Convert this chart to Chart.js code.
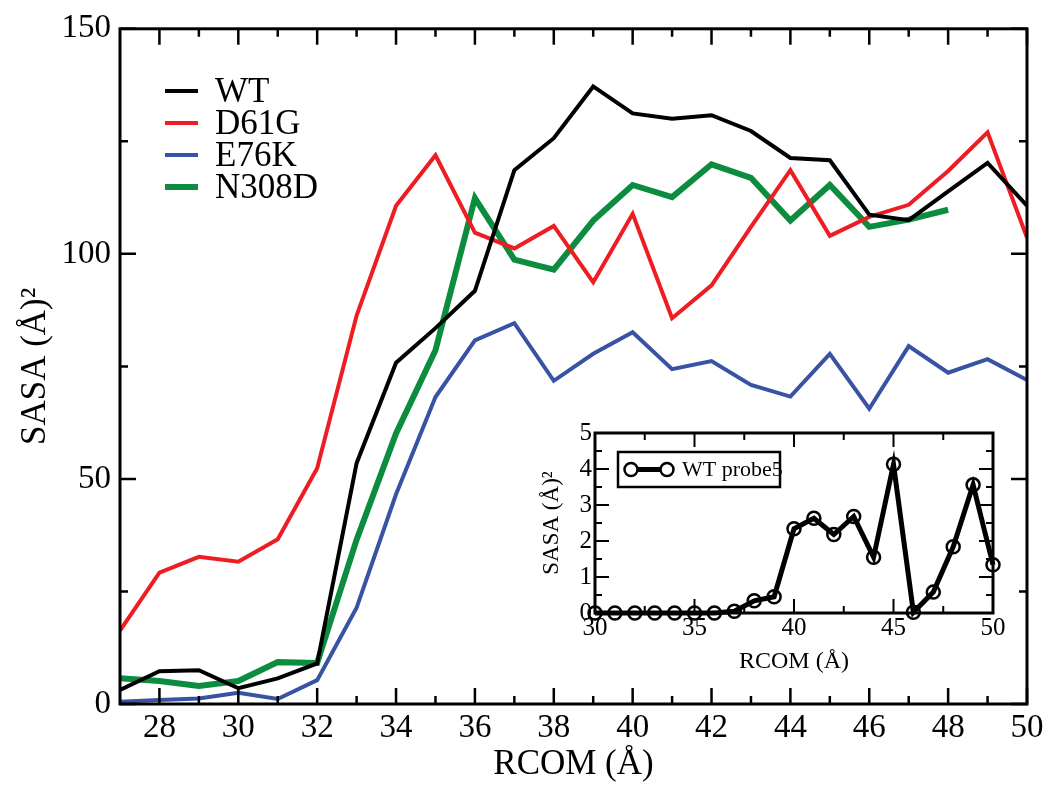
<!DOCTYPE html>
<html><head><meta charset="utf-8">
<script src="https://cdn.jsdelivr.net/npm/chart.js@4.4.1/dist/chart.umd.min.js"></script>
<style>
html,body{margin:0;padding:0;background:#fff;}
#wrap{position:relative;width:1050px;height:792px;overflow:hidden;}
#main{position:absolute;left:0;top:0;}
#inset{position:absolute;left:535px;top:415px;}
</style></head><body>
<div id="wrap"><canvas id="main" width="1050" height="792"></canvas><canvas id="inset" width="475" height="265"></canvas></div>
<script>
// ---- main chart data ----
const rcom = [27,28,29,30,31,32,33,34,35,36,37,38,39,40,41,42,43,44,45,46,47,48,49,50];
const wt    = [3.1,7.3,7.5,3.5,5.7,9.0,53.5,75.8,83.5,91.8,118.6,125.7,137.2,131.2,130.0,130.8,127.3,121.3,120.8,108.7,107.5,113.9,120.2,110.7];
const d61g  = [16.3,29.2,32.7,31.6,36.6,52.4,86.3,110.7,121.9,104.7,101.2,106.2,93.7,108.9,85.7,93.0,106.0,118.6,104.0,108.2,110.9,118.4,127.0,103.6];
const e76k  = [0.5,0.9,1.2,2.5,1.1,5.3,21.4,46.6,68.2,80.8,84.6,71.8,77.8,82.6,74.4,76.2,70.9,68.3,77.8,65.6,79.5,73.6,76.6,72.0];
const n308d = [5.7,5.1,4.0,5.1,9.3,9.1,36.5,60.1,78.6,112.4,98.7,96.5,107.4,115.3,112.6,119.9,116.9,107.4,115.3,106.0,107.6,109.8,null,null];
const seriesNames = ['WT','D61G','E76K','N308D'];
const xTickLabels = [28,30,32,34,36,38,40,42,44,46,48,50];
const xMinorTicks = [29,31,33,35,37,39,41,43,45,47,49];
const yTickLabels = [0,50,100,150];
const yMinorTicks = [25,75,125];

// ---- inset data ----
const probeX = [30,31,32,33,34,35,36,37,38,39,40,41,42,43,44,45,46,47,48,49,50];
const probe5 = [0,0,0,0,0,0,0,0.05,0.34,0.45,2.34,2.63,2.18,2.68,1.55,4.13,0.02,0.58,1.84,3.56,1.34];
const insetName = 'WT probe5';
const insetXTickLabels = [30,35,40,45,50];
const insetXMinorTicks = [32.5,37.5,42.5,47.5];
const insetYTickLabels = [0,1,2,3,4,5];
const insetYMinorTicks = [0.5,1.5,2.5,3.5,4.5];

const SERIF = '"Liberation Serif", "DejaVu Serif", serif';
const toXY = (xs, ys) => xs.map((x, i) => ({x: x, y: ys[i]}));

const frameTicks = {
  id: 'frameTicks',
  beforeDraw(chart, args, o) {
    const {ctx, chartArea: a} = chart;
    if (o.fill) { ctx.save(); ctx.fillStyle = '#fff'; ctx.fillRect(a.left, a.top, a.right - a.left, a.bottom - a.top); ctx.restore(); }
  },
  afterDatasetsDraw(chart, args, o) {
    const {ctx, chartArea: a, scales: {x, y}} = chart;
    ctx.save();
    ctx.strokeStyle = '#000'; ctx.lineCap = 'butt'; ctx.lineWidth = o.tickWidth;
    ctx.beginPath();
    const vx = (vals, len) => vals.forEach(v => { const p = x.getPixelForValue(v);
      ctx.moveTo(p, a.bottom); ctx.lineTo(p, a.bottom - len); ctx.moveTo(p, a.top); ctx.lineTo(p, a.top + len); });
    const vy = (vals, len) => vals.forEach(v => { const p = y.getPixelForValue(v);
      ctx.moveTo(a.left, p); ctx.lineTo(a.left + len, p); ctx.moveTo(a.right, p); ctx.lineTo(a.right - len, p); });
    vx(o.xMajor, o.major); vx(o.xMinor, o.minor); vy(o.yMajor, o.major); vy(o.yMinor, o.minor);
    ctx.stroke();
    ctx.lineWidth = o.frameWidth; ctx.lineJoin = 'miter';
    ctx.strokeRect(a.left, a.top, a.right - a.left, a.bottom - a.top);
    ctx.restore();
  }
};

const innerLegend = {
  id: 'innerLegend',
  afterDraw(chart, args, o) {
    const ctx = chart.ctx;
    ctx.save();
    ctx.font = o.fontSize + 'px ' + SERIF; ctx.textBaseline = 'middle'; ctx.fillStyle = '#000';
    chart.data.datasets.forEach((ds, i) => {
      const yy = o.y + i * o.gap;
      ctx.strokeStyle = ds.borderColor; ctx.lineWidth = ds.borderWidth; ctx.lineCap = 'butt';
      ctx.beginPath(); ctx.moveTo(o.x1, yy); ctx.lineTo(o.x2, yy); ctx.stroke();
      ctx.fillText(ds.label, o.tx, yy + 2);
    });
    ctx.restore();
  }
};

const boxLegend = {
  id: 'boxLegend',
  afterDraw(chart, args, o) {
    const ctx = chart.ctx; const ds = chart.data.datasets[0];
    ctx.save();
    ctx.strokeStyle = '#000'; ctx.lineWidth = 2.5;
    ctx.strokeRect(o.left, o.top, o.width, o.height);
    const yy = o.top + o.height / 2;
    ctx.lineWidth = ds.borderWidth; ctx.beginPath(); ctx.moveTo(o.lx1, yy); ctx.lineTo(o.lx2, yy); ctx.stroke();
    ctx.lineWidth = ds.pointBorderWidth;
    [o.lx1, o.lx2].forEach(px => { ctx.beginPath(); ctx.arc(px, yy, ds.pointRadius, 0, Math.PI * 2); ctx.fillStyle = '#fff'; ctx.fill(); ctx.stroke(); });
    ctx.fillStyle = '#000'; ctx.font = o.fontSize + 'px ' + SERIF; ctx.textBaseline = 'middle';
    ctx.fillText(ds.label, o.tx, yy + 1);
    ctx.restore();
  }
};

function lineDs(label, data, color, width) {
  return {label, data: toXY(rcom, data), borderColor: color, backgroundColor: color, borderWidth: width,
    pointRadius: 0, tension: 0, borderJoinStyle: 'miter', spanGaps: false, fill: false};
}

new Chart(document.getElementById('main'), {
  type: 'line',
  data: { datasets: [
    lineDs(seriesNames[0], wt, '#000000', 4),
    lineDs(seriesNames[1], d61g, '#ee1d23', 4),
    lineDs(seriesNames[2], e76k, '#3953a4', 4),
    lineDs(seriesNames[3], n308d, '#0b8c3e', 6)
  ]},
  options: {
    responsive: false, animation: false, devicePixelRatio: 1,
    layout: { padding: {left: 0, right: 23, top: 25, bottom: 0} },
    plugins: {
      legend: {display: false}, tooltip: {enabled: false},
      frameTicks: {xMajor: xTickLabels, xMinor: xMinorTicks, yMajor: yTickLabels, yMinor: yMinorTicks, major: 16, minor: 8, tickWidth: 2.5, frameWidth: 3},
      innerLegend: {x1: 165, x2: 198, tx: 215, y: 91, gap: 32, fontSize: 35}
    },
    scales: {
      x: { type: 'linear', min: 27, max: 50,
        afterFit: s => { s.height = 88; },
        afterBuildTicks: s => { s.ticks = xTickLabels.map(v => ({value: v})); },
        grid: {display: false, drawTicks: false}, border: {display: false},
        ticks: {color: '#000', font: {family: SERIF, size: 33}, padding: 5, maxRotation: 0, autoSkip: false},
        title: {display: true, text: 'RCOM (Å)', color: '#000', font: {family: SERIF, size: 35}, padding: {top: 0, bottom: 6}}
      },
      y: { type: 'linear', min: 0, max: 150,
        afterFit: s => { s.width = 120; },
        afterBuildTicks: s => { s.ticks = yTickLabels.map(v => ({value: v})); },
        grid: {display: false, drawTicks: false}, border: {display: false},
        ticks: {color: '#000', font: {family: SERIF, size: 33}, padding: 9},
        title: {display: true, text: 'SASA (Å)²', color: '#000', font: {family: SERIF, size: 35}, padding: {top: 15, bottom: 0}}
      }
    }
  },
  plugins: [frameTicks, innerLegend]
});

new Chart(document.getElementById('inset'), {
  type: 'line',
  data: { datasets: [{
    label: insetName, data: toXY(probeX, probe5), borderColor: '#000', backgroundColor: '#000', borderWidth: 5,
    pointRadius: 6.5, pointBorderWidth: 2.5, pointBackgroundColor: 'rgba(0,0,0,0)', pointBorderColor: '#000',
    tension: 0, borderJoinStyle: 'miter', fill: false, clip: false
  }]},
  options: {
    responsive: false, animation: false, devicePixelRatio: 1,
    layout: { padding: {left: 0, right: 17, top: 14, bottom: 0} },
    plugins: {
      legend: {display: false}, tooltip: {enabled: false},
      frameTicks: {fill: true, xMajor: insetXTickLabels, xMinor: insetXMinorTicks, yMajor: insetYTickLabels, yMinor: insetYMinorTicks, major: 14, minor: 7, tickWidth: 2, frameWidth: 3},
      boxLegend: {left: 83, top: 37, width: 162, height: 35, lx1: 96, lx2: 132, tx: 147, fontSize: 22}
    },
    scales: {
      x: { type: 'linear', min: 30, max: 50,
        afterFit: s => { s.height = 67; },
        afterBuildTicks: s => { s.ticks = insetXTickLabels.map(v => ({value: v})); },
        grid: {display: false, drawTicks: false}, border: {display: false},
        ticks: {color: '#000', font: {family: SERIF, size: 25}, padding: 0, maxRotation: 0, autoSkip: false},
        title: {display: true, text: 'RCOM (Å)', color: '#000', font: {family: SERIF, size: 24}, padding: {top: 0, bottom: 4}}
      },
      y: { type: 'linear', min: 0, max: 5,
        afterFit: s => { s.width = 60; },
        afterBuildTicks: s => { s.ticks = insetYTickLabels.map(v => ({value: v})); },
        grid: {display: false, drawTicks: false}, border: {display: false},
        ticks: {color: '#000', font: {family: SERIF, size: 25}, padding: 3},
        title: {display: true, text: 'SASA (Å)²', color: '#000', font: {family: SERIF, size: 23}, padding: {top: 3, bottom: 0}}
      }
    }
  },
  plugins: [frameTicks, boxLegend]
});
</script>
</body></html>
